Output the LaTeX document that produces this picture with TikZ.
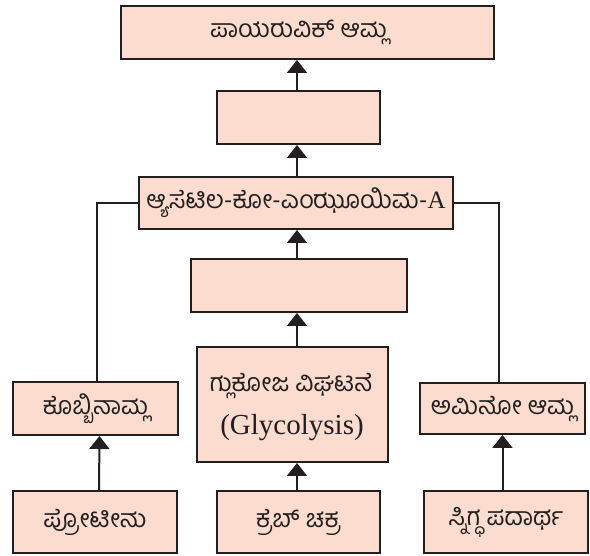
\documentclass[tikz,border=0pt]{standalone}
\usepackage{fontspec}
\setmainfont{Liberation Serif}
\newfontfamily\kn[Script=Kannada]{Hind Mysuru}
\usetikzlibrary{arrows.meta}
\definecolor{boxfill}{HTML}{FCDCCE}
\definecolor{ink}{HTML}{231F20}
\tikzset{
  box/.style={draw=ink, fill=boxfill, line width=2pt, rectangle, inner sep=0pt},
  txt/.style={inner sep=0pt, font=\fontsize{25}{30}\selectfont\kn, text=ink},
  conn/.style={draw=ink, line width=2pt},
  arr/.style={conn, -{Triangle[width=20pt,length=13pt]}},
}
\begin{document}
\begin{tikzpicture}[x=1pt,y=1pt]
\useasboundingbox (0,0) rectangle (590,-556);
\coordinate (col) at (297,0);
% boxes
\node[box, minimum width=373pt, minimum height=53pt] (top) at (307.5,-32.5) {};
\node[txt] (toptext) at (298.5,-32.5) {ಪಾಯರುವಿಕ್ ಆಮ್ಲ};
\node[box, minimum width=163pt, minimum height=53pt] (box2) at (298.5,-117.5) {};
\node[box, minimum width=314pt, minimum height=52pt, txt] (acetyl) at (296,-203) {ಆ್ಯಸೆಟಿಲ-ಕೋ-ಎಂಝೂಯಿಮ-{\rmfamily A}};
\node[box, minimum width=216pt, minimum height=53pt] (box4) at (299,-285.5) {};
\node[box, minimum width=191pt, minimum height=115pt] (glyc) at (292.5,-404.5) {};
\node[txt] (glyc1) at (291,-386) {ಗ್ಲುಕೋಜ ವಿಘಟನೆ};
\node[inner sep=0pt, font=\fontsize{29}{34}\selectfont, text=ink] (glyc2) at (292,-428) {(Glycolysis)};
\node[box, minimum width=165pt, minimum height=53pt, txt] (kob) at (95.5,-408.5) {ಕೊಬ್ಬಿನಾಮ್ಲ};
\node[box, minimum width=165pt, minimum height=51pt, txt] (amino) at (502.5,-408.5) {ಅಮಿನೋ ಆಮ್ಲ};
\node[box, minimum width=164pt, minimum height=62pt, txt] (protein) at (95,-522) {ಪ್ರೋಟೀನು};
\node[box, minimum width=163pt, minimum height=62pt, txt] (kreb) at (298.5,-522) {ಕ್ರೆಬ್ ಚಕ್ರ};
\node[box, minimum width=164pt, minimum height=62pt, txt] (lipid) at (506,-522) {ಸ್ನಿಗ್ಧ ಪದಾರ್ಥ};
% central column arrows
\draw[arr] (box2.north -| col) -- (top.south -| col);
\draw[arr] (acetyl.north -| col) -- (box2.south -| col);
\draw[arr] (box4.north -| col) -- (acetyl.south -| col);
\draw[arr] (glyc.north -| col) -- (box4.south -| col);
\draw[arr] (kreb.north -| col) -- (glyc.south -| col);
% side arrows
\draw[arr] ([xshift=4pt]protein.north) -- ([xshift=4pt]kob.south);
\draw[arr] (lipid.north -| amino) -- (amino.south);
% side connectors
\draw[conn] ([xshift=1.5pt]kob.north) |- (acetyl.west);
\draw[conn] ([xshift=-3.5pt]amino.north) |- (acetyl.east);
\end{tikzpicture}
\end{document}
